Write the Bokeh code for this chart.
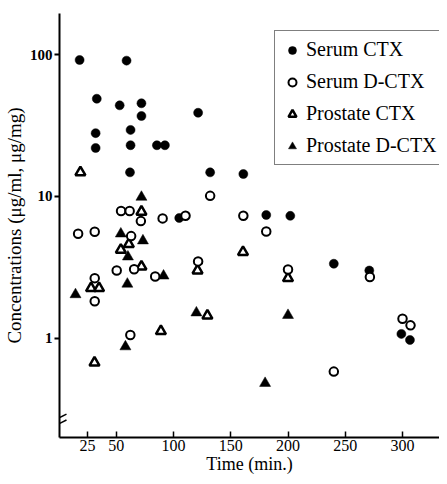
import math
from bokeh.plotting import figure
from bokeh.models import FixedTicker, NumeralTickFormatter, Legend, LegendItem, Arrow
from bokeh.embed import file_html
from bokeh.resources import INLINE

# ---- data ----
serum_ctx_t = [18, 59, 33, 53, 72, 72, 121.5, 32, 62.5, 32, 62.5, 85.5, 92.5, 62, 132, 161, 181, 202, 105, 240, 271, 299, 306.5]
serum_ctx_v = [92, 91, 49, 44, 45.5, 37, 39, 28, 29.5, 22, 23, 23, 23, 14.8, 14.8, 14.4, 7.4, 7.3, 7.05, 3.35, 3.0, 1.07, 0.97]

serum_dctx_t = [16.7, 31.2, 54.2, 61.7, 71.5, 90.5, 110.5, 132, 161, 181, 63, 50.4, 65.6, 84, 121.5, 200, 31.2, 31.2, 62.3, 240, 271.5, 300, 307]
serum_dctx_v = [5.45, 5.63, 7.9, 7.9, 6.7, 7.0, 7.3, 10.1, 7.3, 5.65, 5.25, 3.0, 3.06, 2.72, 3.48, 3.05, 2.65, 1.82, 1.05, 0.58, 2.7, 1.37, 1.23]

prostate_ctx_t = [18.7, 72, 61, 54, 72, 28, 35, 121, 200, 160.7, 129.6, 89, 31]
prostate_ctx_v = [14.8, 7.8, 4.6, 4.2, 3.2, 2.25, 2.25, 3.0, 2.65, 4.05, 1.44, 1.12, 0.67]

prostate_dctx_t = [72, 54, 73.3, 60.2, 91.3, 59.7, 14.4, 120, 200, 58, 180]
prostate_dctx_v = [9.9, 5.45, 4.87, 3.75, 2.75, 2.41, 2.03, 1.51, 1.45, 0.87, 0.48]

x_ticks = [25, 50, 100, 150, 200, 250, 300]
y_ticks = [1, 10, 100]

FONT = "Liberation Serif"
INK = "#000000"

W, H = 439, 476
BL, BT, BB, BR = 58, 13, 38, 0
FRAME_H = H - BT - BB

x_range = (0.44, 332.3)
y_lo_log, y_hi_log = -0.702, 2.292
y_range = (10 ** y_lo_log, 10 ** y_hi_log)

p = figure(width=W, height=H, y_axis_type="log",
           x_range=x_range, y_range=y_range,
           output_backend="svg", toolbar_location=None,
           min_border_left=BL, min_border_right=BR,
           min_border_top=BT, min_border_bottom=BB)
p.outline_line_color = None
p.xgrid.visible = False
p.ygrid.visible = False
p.background_fill_color = "white"
p.border_fill_color = "white"

# y axis
p.yaxis.ticker = FixedTicker(ticks=y_ticks, minor_ticks=[])
p.yaxis.formatter = NumeralTickFormatter(format="0")
p.yaxis.major_tick_out = 5
p.yaxis.major_tick_in = 0
p.yaxis.minor_tick_line_color = None
p.yaxis.axis_line_width = 2
p.yaxis.axis_line_color = INK
p.yaxis.major_tick_line_width = 2
p.yaxis.major_tick_line_color = INK
p.yaxis.major_label_text_font = FONT
p.yaxis.major_label_text_font_size = "15px"
p.yaxis.major_label_text_font_style = "bold"
p.yaxis.major_label_text_color = INK
p.yaxis.major_label_standoff = 2
p.yaxis.axis_label = "Concentrations (\u03bcg/ml, \u03bcg/mg)"
p.yaxis.axis_label_text_font = FONT
p.yaxis.axis_label_text_font_size = "19px"
p.yaxis.axis_label_text_font_style = "normal"
p.yaxis.axis_label_text_color = INK
p.yaxis.axis_label_standoff = 2

# x axis
p.xaxis.ticker = FixedTicker(ticks=x_ticks, minor_ticks=[])
p.xaxis.major_tick_out = 0
p.xaxis.major_tick_in = 6
p.xaxis.minor_tick_line_color = None
p.xaxis.axis_line_width = 2
p.xaxis.axis_line_color = INK
p.xaxis.major_tick_line_width = 1.5
p.xaxis.major_tick_line_color = INK
p.xaxis.major_label_text_font = FONT
p.xaxis.major_label_text_font_size = "16px"
p.xaxis.major_label_text_color = INK
p.xaxis.major_label_standoff = 2
p.xaxis.axis_label = "Time (min.)"
p.xaxis.axis_label_text_font = FONT
p.xaxis.axis_label_text_font_size = "18px"
p.xaxis.axis_label_text_font_style = "normal"
p.xaxis.axis_label_text_color = INK
p.xaxis.axis_label_standoff = 0

# data marks
r1 = p.scatter(serum_ctx_t, serum_ctx_v, marker="circle", size=9,
               fill_color=INK, line_color=INK, line_width=0.5)
r4 = p.scatter(prostate_dctx_t, prostate_dctx_v, marker="triangle", size=11,
               fill_color=INK, line_color=INK, line_width=0.5)
r3 = p.scatter(prostate_ctx_t, prostate_ctx_v, marker="triangle", size=10,
               fill_color="white", line_color=INK, line_width=2.5)
r2 = p.scatter(serum_dctx_t, serum_dctx_v, marker="circle", size=8.5,
               fill_color="white", line_color=INK, line_width=2)

# legend: left edge 273px, bottom edge 166px (from top of the figure)
legend = Legend(items=[
    LegendItem(label="Serum CTX", renderers=[r1]),
    LegendItem(label="Serum D-CTX", renderers=[r2]),
    LegendItem(label="Prostate CTX", renderers=[r3]),
    LegendItem(label="Prostate D-CTX", renderers=[r4]),
], location=(273 - BL, (H - BB) - 166), margin=0, padding=7, spacing=9,
    label_height=20, glyph_height=20, glyph_width=20, label_standoff=4,
    label_text_font=FONT, label_text_font_size="20px", label_text_color=INK,
    border_line_color=INK, border_line_width=1.5,
    background_fill_color="white", background_fill_alpha=1.0)
p.add_layout(legend)

# axis break marks (decoration on the y axis, below the lowest tick)
x_scale = (W - BL - BR) / (x_range[1] - x_range[0])


def t_of_dx(dx):
    return x_range[0] + dx / x_scale


def v_of_y(y_px):
    # y_px: pixels from the top of the figure
    frac = (H - BB - y_px) / FRAME_H
    return 10 ** (y_lo_log + frac * (y_hi_log - y_lo_log))


for yc in (418, 424):
    p.add_layout(Arrow(end=None, start=None,
                       x_start=t_of_dx(-7), y_start=v_of_y(yc + 3.5),
                       x_end=t_of_dx(7), y_end=v_of_y(yc - 3.5),
                       line_color=INK, line_width=1.5))

open("out.html", "w").write(file_html(p, INLINE))
